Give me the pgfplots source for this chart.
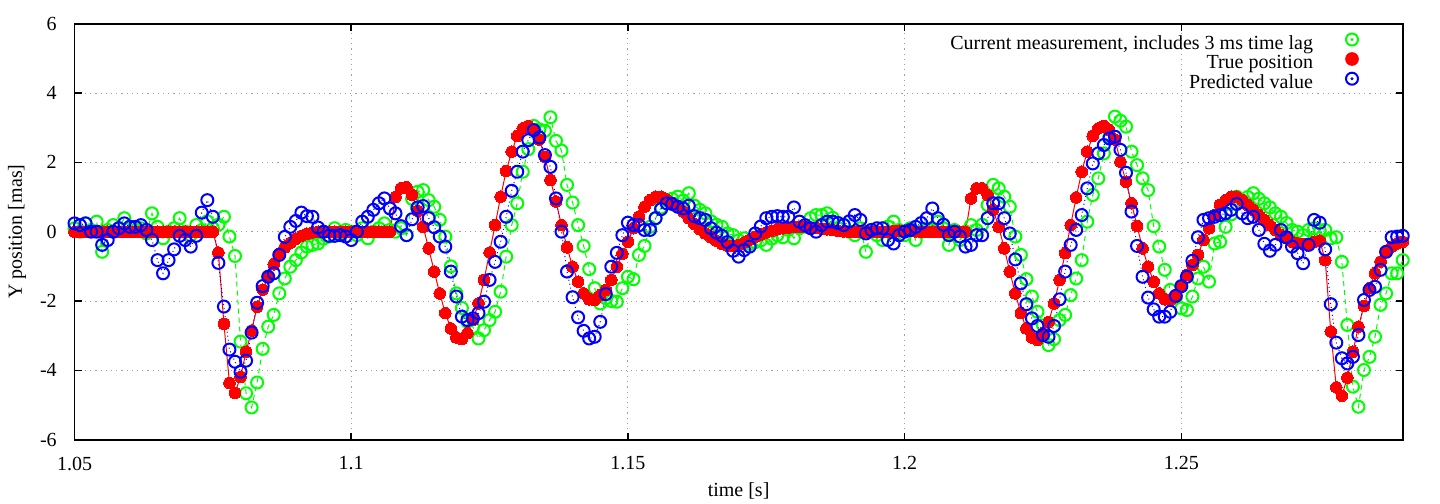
\documentclass[border=0pt]{standalone}
\usepackage{fontspec}
\setmainfont{Liberation Serif}
\usepackage{pgfplots}
\usepackage{pgfplotstable}
\pgfplotsset{compat=1.18}
\definecolor{gpgreen}{RGB}{0,255,0}
\definecolor{gpred}{RGB}{255,0,0}
\definecolor{gpblue}{RGB}{0,0,255}
\definecolor{gridgray}{RGB}{160,160,160}

% t [ms], g = current measurement (3 ms lag), r = true position, b = predicted value
\pgfplotstableread{
t g r b
1050 0.10 0 0.24
1051 0.00 0 0.19
1052 0.24 0 0.24
1053 0.05 0 0.00
1054 0.29 0 0.00
1055 -0.58 0 -0.38
1056 0.05 0 -0.24
1057 0.19 0 0.00
1058 0.10 0 0.10
1059 0.39 0 0.24
1060 0.15 0 0.14
1061 0.05 0 0.14
1062 0.10 0 0.19
1063 -0.05 0 0.05
1064 0.53 0 -0.24
1065 0.14 0 -0.82
1066 -0.19 0 -1.20
1067 0.00 0 -0.82
1068 0.10 0 -0.51
1069 0.39 0 -0.12
1070 0.00 0 -0.24
1071 -0.10 0 -0.43
1072 0.19 0 -0.12
1073 0.05 0 0.55
1074 0.30 0 0.91
1075 0.10 0 0.43
1076 0.20 -0.60 -0.90
1077 0.43 -2.66 -2.16
1078 -0.14 -4.36 -3.40
1079 -0.70 -4.65 -3.75
1080 -3.17 -4.19 -4.04
1081 -4.66 -3.46 -3.72
1082 -5.07 -2.85 -2.91
1083 -4.35 -2.17 -2.05
1084 -3.38 -1.67 -1.57
1085 -2.74 -1.29 -1.30
1086 -2.40 -0.94 -1.20
1087 -1.78 -0.63 -0.67
1088 -1.35 -0.45 -0.15
1089 -1.01 -0.32 0.14
1090 -0.82 -0.20 0.31
1091 -0.60 -0.12 0.55
1092 -0.43 -0.06 0.45
1093 -0.38 -0.02 0.43
1094 -0.34 0 0.12
1095 -0.20 0 0.00
1096 -0.14 0 -0.12
1097 0.10 0 -0.12
1098 -0.05 0 -0.10
1099 0.05 0 -0.14
1100 0.00 0 -0.24
1101 -0.10 0 0.00
1102 0.10 0 0.29
1103 -0.19 0 0.43
1104 0.00 0 0.63
1105 0.10 0 0.82
1106 0.24 0 0.96
1107 0.05 0 0.67
1108 0.00 1.00 0.53
1109 0.10 1.25 0.16
1110 -0.10 1.28 -0.10
1111 0.95 1.06 0.36
1112 1.15 0.60 0.70
1113 1.20 0.14 0.74
1114 0.91 -0.48 0.39
1115 0.72 -1.15 0.13
1116 0.34 -1.78 -0.14
1117 -0.14 -2.35 -0.43
1118 -1.00 -2.79 -1.15
1119 -1.78 -3.05 -1.87
1120 -2.20 -3.10 -2.45
1121 -2.60 -2.93 -2.55
1122 -2.75 -2.55 -2.50
1123 -3.08 -2.07 -2.35
1124 -2.84 -1.39 -2.02
1125 -2.55 -0.60 -1.39
1126 -2.31 0.19 -0.87
1127 -1.73 1.01 -0.29
1128 -0.72 1.75 0.43
1129 0.19 2.31 1.18
1130 0.82 2.76 1.73
1131 1.73 2.98 2.31
1132 2.38 3.05 2.64
1133 3.05 2.93 2.93
1134 2.95 2.66 2.72
1135 2.91 2.16 2.21
1136 3.30 1.49 1.87
1137 2.62 0.87 0.96
1138 2.34 0.19 0.00
1139 1.35 -0.45 -1.15
1140 0.84 -1.01 -1.89
1141 0.19 -1.44 -2.47
1142 -0.41 -1.78 -2.86
1143 -1.08 -1.95 -3.08
1144 -1.63 -1.97 -3.03
1145 -2.07 -1.83 -2.60
1146 -1.92 -1.68 -1.80
1147 -2.00 -1.39 -1.01
1148 -2.02 -1.01 -0.61
1149 -1.63 -0.64 -0.10
1150 -1.30 -0.29 0.26
1151 -1.37 0.10 0.19
1152 -0.67 0.43 0.19
1153 -0.41 0.72 0.05
1154 0.14 0.91 0.05
1155 0.39 1.01 0.39
1156 0.70 1.01 0.65
1157 0.90 0.93 0.82
1158 0.95 0.82 0.80
1159 1.01 0.72 0.72
1160 0.90 0.58 0.67
1161 1.11 0.39 0.75
1162 0.75 0.22 0.45
1163 0.63 0.07 0.39
1164 0.53 -0.05 0.34
1165 0.30 -0.16 0.10
1166 0.20 -0.26 -0.03
1167 0.14 -0.35 -0.12
1168 -0.05 -0.40 -0.30
1169 -0.10 -0.41 -0.55
1170 -0.25 -0.38 -0.72
1171 -0.19 -0.31 -0.53
1172 -0.35 -0.23 -0.43
1173 -0.30 -0.15 -0.05
1174 -0.25 -0.08 0.15
1175 -0.38 -0.02 0.39
1176 -0.20 0.03 0.43
1177 -0.10 0.07 0.45
1178 -0.16 0.10 0.43
1179 0.05 0.12 0.43
1180 -0.19 0.13 0.70
1181 0.10 0.13 0.29
1182 0.15 0.13 0.19
1183 0.39 0.12 0.10
1184 0.48 0.11 0.00
1185 0.48 0.09 0.19
1186 0.53 0.07 0.29
1187 0.40 0.05 0.29
1188 0.10 0.03 0.25
1189 0.20 0.01 0.19
1190 0.00 0 0.30
1191 -0.10 0 0.48
1192 0.10 0 0.34
1193 -0.58 0 -0.05
1194 0.05 0 0.05
1195 -0.10 0 0.10
1196 -0.24 0 0.10
1197 0.15 0 -0.24
1198 0.29 0.02 -0.34
1199 0.05 0.03 -0.10
1200 -0.10 0.03 0.00
1201 0.10 0.02 0.05
1202 -0.24 0.01 0.14
1203 0.00 0 0.25
1204 0.10 0 0.39
1205 0.05 0 0.67
1206 0.29 0 0.39
1207 0.10 0 0.20
1208 -0.38 0 -0.10
1209 0.05 0 0.00
1210 -0.24 0 -0.14
1211 0.00 0 -0.43
1212 0.19 0.96 -0.38
1213 0.05 1.25 -0.10
1214 0.20 1.25 -0.10
1215 0.77 1.06 0.39
1216 1.35 0.63 0.82
1217 1.25 0.14 0.82
1218 1.01 -0.48 0.39
1219 0.72 -1.15 -0.05
1220 -0.14 -1.78 -0.80
1221 -0.67 -2.35 -1.49
1222 -1.37 -2.79 -2.09
1223 -1.87 -3.05 -2.50
1224 -2.31 -3.12 -2.72
1225 -2.70 -2.93 -2.98
1226 -3.27 -2.60 -3.03
1227 -3.10 -2.07 -2.72
1228 -2.55 -1.39 -1.95
1229 -2.40 -0.62 -1.15
1230 -1.83 0.19 -0.38
1231 -1.35 0.99 0.05
1232 -0.82 1.73 0.48
1233 0.29 2.31 1.25
1234 1.06 2.76 1.97
1235 1.54 2.98 2.26
1236 2.26 3.05 2.50
1237 2.75 2.93 2.69
1238 3.32 2.66 2.74
1239 3.20 2.02 2.36
1240 3.03 1.44 1.70
1241 2.31 0.82 0.58
1242 1.92 0.16 -0.41
1243 1.54 -0.48 -1.30
1244 1.20 -1.01 -1.90
1245 0.16 -1.44 -2.24
1246 -0.43 -1.78 -2.45
1247 -1.10 -1.95 -2.45
1248 -1.68 -1.97 -2.31
1249 -1.90 -1.87 -1.85
1250 -2.21 -1.59 -1.57
1251 -2.26 -1.25 -1.30
1252 -1.87 -0.96 -0.84
1253 -1.35 -0.67 -0.16
1254 -1.01 -0.24 0.34
1255 -1.44 0.10 0.39
1256 -0.34 0.48 0.43
1257 -0.29 0.77 0.48
1258 0.14 0.91 0.53
1259 0.50 1.01 0.63
1260 1.01 1.01 0.80
1261 0.90 0.91 0.53
1262 1.00 0.77 0.39
1263 1.11 0.63 0.43
1264 0.95 0.48 0.05
1265 0.82 0.34 -0.35
1266 0.70 0.19 -0.55
1267 0.53 0.05 -0.38
1268 0.43 -0.10 0.05
1269 0.25 -0.19 -0.16
1270 0.05 -0.29 -0.43
1271 0.00 -0.34 -0.62
1272 -0.10 -0.36 -0.91
1273 0.05 -0.35 -0.38
1274 0.10 -0.29 0.34
1275 0.05 -0.26 0.26
1276 0.05 -0.82 -0.51
1277 -0.19 -2.88 -2.09
1278 -0.16 -4.49 -3.20
1279 -0.87 -4.73 -3.65
1280 -2.69 -4.21 -3.80
1281 -4.47 -3.46 -3.61
1282 -5.05 -2.74 -2.98
1283 -3.99 -2.14 -1.97
1284 -3.61 -1.63 -1.68
1285 -3.03 -1.20 -1.59
1286 -2.11 -0.86 -1.10
1287 -1.78 -0.58 -0.58
1288 -1.20 -0.43 -0.16
1289 -1.20 -0.34 -0.14
1290 -0.82 -0.29 -0.12
}\data

\begin{document}
\begin{tikzpicture}[font=\fontsize{10bp}{12bp}\selectfont]
\useasboundingbox (-37.25bp,-32.15bp) rectangle (682.75bp,219.85bp);
\begin{axis}[
  at={(0,0)}, anchor=south west,
  scale only axis, width=664.1bp, height=208bp,
  xmin=1050, xmax=1290, ymin=-6, ymax=6,
  xtick={1050,1100,1150,1200,1250},
  xticklabels={1.05,1.1,1.15,1.2,1.25},
  ytick={-6,-4,-2,0,2,4,6},
  yticklabels={-6,-4,-2,0,2,4,6},
  tick align=inside, tick pos=both, major tick length=3.5bp,
  grid=major,
  major grid style={gridgray, line width=0.5bp, dash pattern=on 0.6bp off 2bp},
  axis line style={line width=0.8bp, black},
  every tick/.style={black, line width=0.8bp},
  xticklabel shift=5bp, yticklabel shift=5.4bp,
  xlabel={time [s]}, ylabel={Y position [mas]},
  xlabel style={at={(axis description cs:0.5,-0.1233)}, anchor=center},
  ylabel style={at={(axis description cs:-0.0433,0.5)}, anchor=center},
  clip=false,
  legend plot pos=right,
  legend cell align=right,
  legend style={at={(axis description cs:1,1)}, anchor=north east,
    xshift=-19.85bp, yshift=-4.4bp, draw=none, fill=none,
    inner sep=0pt, outer sep=0pt, row sep=-0.5bp, column sep=0pt,
    nodes={inner sep=0pt, text height=6.5bp, text depth=2bp}},
]
\addplot[forget plot, gpgreen, line width=0.5bp, dash pattern=on 2.5bp off 2bp,
  mark=o, mark size=3bp, mark options={solid, line width=1bp}]
  table[x=t, y=g]{\data};
\addplot[forget plot, gpred, line width=0.5bp,
  mark=*, mark size=2.9bp, mark options={solid, fill=gpred, draw=gpred, line width=0pt}]
  table[x=t, y=r]{\data};
\addplot[forget plot, gpblue, line width=0.5bp, dash pattern=on 0.5bp off 1.5bp,
  mark=o, mark size=3bp, mark options={solid, line width=1bp}]
  table[x=t, y=b]{\data};

\addlegendimage{legend image code/.code={
  \path[draw=none, fill=none] (0bp,-1bp) rectangle (25bp,5bp);
  \draw[gpgreen, solid, line width=1bp] (19.5bp,2.6bp) circle (3bp);
  \fill[gpgreen] (19.5bp,2.6bp) circle (0.55bp);}}
\addlegendentry{Current measurement, includes 3 ms time lag}
\addlegendimage{legend image code/.code={
  \path[draw=none, fill=none] (0bp,-1bp) rectangle (25bp,5bp);
  \fill[gpred] (19.5bp,2.6bp) circle (3.2bp);}}
\addlegendentry{True position}
\addlegendimage{legend image code/.code={
  \path[draw=none, fill=none] (0bp,-1bp) rectangle (25bp,5bp);
  \draw[gpblue, solid, line width=1bp] (19.5bp,2.6bp) circle (3bp);
  \fill[gpblue] (19.5bp,2.6bp) circle (0.55bp);}}
\addlegendentry{Predicted value}
\end{axis}
\end{tikzpicture}
\end{document}
